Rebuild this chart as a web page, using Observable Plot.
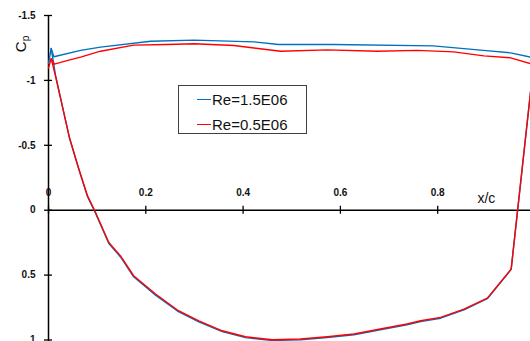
<!DOCTYPE html>
<html>
<head>
<meta charset="utf-8">
<script src="https://cdn.jsdelivr.net/npm/d3@7"></script>
<script src="https://cdn.jsdelivr.net/npm/@observablehq/plot@0.6"></script>
<style>
  html, body { margin: 0; padding: 0; background: #fff; overflow: hidden; }
  #wrap { position: relative; width: 530px; height: 341px; }
  #legend { position: absolute; left: 178px; top: 85px; width: 127px; height: 47px;
    border: 1px solid #404040; background: #fff;
    font-family: "Liberation Sans", Arial, sans-serif; font-size: 15px; color: #111; }
  .entry { position: absolute; left: 18px; height: 18px; display: flex; align-items: center; }
  .sw { width: 14px; height: 0; border-top: 1.5px solid; margin-right: 1px; }
</style>
</head>
<body>
<div id="wrap"></div>
<script>
// ---- data ----
const seriesNames = ["Re=1.5E06", "Re=0.5E06"];
const seriesColors = ["#0070C0", "#FF0000"];

const xTicks = [0, 0.2, 0.4, 0.6, 0.8];
const yTicks = [-1.5, -1, -0.5, 0, 0.5, 1];

// Re = 1.5E06, upper surface
const upperX15  = [0, 0.0055, 0.011, 0.066, 0.107, 0.210, 0.299, 0.422, 0.473, 0.586, 0.791, 0.894, 0.950, 1.0];
const upperCp15 = [-1.13, -1.246, -1.182, -1.231, -1.256, -1.302, -1.310, -1.297, -1.277, -1.277, -1.266, -1.231, -1.212, -1.172];
// Re = 0.5E06, upper surface
const upperX05  = [0, 0.0055, 0.012, 0.038, 0.066, 0.107, 0.175, 0.244, 0.299, 0.381, 0.477, 0.573, 0.676, 0.758, 0.833, 0.895, 0.950, 1.0];
const upperCp05 = [-1.095, -1.168, -1.125, -1.152, -1.179, -1.225, -1.272, -1.277, -1.282, -1.269, -1.225, -1.235, -1.225, -1.231, -1.220, -1.189, -1.174, -1.118];
// lower surface (shared stations)
const lowerX = [0.0055, 0.0144, 0.0247, 0.0432, 0.0617, 0.0802, 0.0946, 0.124, 0.148, 0.175, 0.220, 0.265, 0.309, 0.357, 0.405, 0.460, 0.518, 0.573, 0.628, 0.682, 0.737, 0.765, 0.806, 0.854, 0.902, 0.951, 1.0];
const lowerCp15 = [-1.246, -1.040, -0.866, -0.556, -0.323, -0.105, 0.005, 0.256, 0.360, 0.513, 0.654, 0.777, 0.860, 0.936, 0.982, 1.004, 0.998, 0.981, 0.960, 0.921, 0.883, 0.858, 0.832, 0.768, 0.682, 0.456, -1.225];
const lowerCp05 = [-1.168, -1.033, -0.864, -0.556, -0.325, -0.110, 0.000, 0.249, 0.352, 0.505, 0.646, 0.769, 0.852, 0.929, 0.975, 0.998, 0.992, 0.975, 0.954, 0.915, 0.877, 0.852, 0.826, 0.762, 0.677, 0.454, -1.225];

const xLabel = "x/c";
const xLabelAt = 0.9;

// ---- build table ----
function rows(series, surface, xs, cps) {
  return xs.map((x, i) => ({series, key: series + "|" + surface, x, cp: cps[i]}));
}
const data = [
  ...rows(seriesNames[0], "upper", upperX15, upperCp15),
  ...rows(seriesNames[0], "lower", lowerX, lowerCp15),
  ...rows(seriesNames[1], "upper", upperX05, upperCp05),
  ...rows(seriesNames[1], "lower", lowerX, lowerCp05)
];

const fmt = d => String(d);
const tickFont = "Liberation Sans, Arial, sans-serif";

const chart = Plot.plot({
  width: 530,
  height: 341,
  marginLeft: 0, marginRight: 0, marginTop: 0, marginBottom: 0,
  x: {domain: [0, 1], range: [48, 534.5], axis: null},
  y: {domain: [-1.5, 1], range: [15, 339.5], axis: null},
  color: {domain: seriesNames, range: seriesColors},
  style: {fontFamily: tickFont, background: "#fff"},
  marks: [
    // axes lines
    Plot.ruleY([0], {x1: 0, x2: 1, stroke: "#000", strokeWidth: 1.5}),
    Plot.ruleX([0], {y1: -1.5, y2: 1, insetBottom: -4, stroke: "#000", strokeWidth: 1.5}),
    // crossing ticks
    Plot.ruleY(yTicks, {x1: 0, x2: 0, insetLeft: -4, insetRight: -4, stroke: "#000", strokeWidth: 1.3}),
    Plot.ruleX(xTicks, {y1: 0, y2: 0, insetTop: -4, insetBottom: -4, stroke: "#000", strokeWidth: 1.3}),
    // tick labels
    Plot.text(yTicks, {x: 0, y: d => d, text: fmt, dx: -13, textAnchor: "end", fontWeight: "bold", fontSize: 10, fill: "#111"}),
    Plot.text(xTicks, {x: d => d, y: 0, text: fmt, dy: -17, fontWeight: "bold", fontSize: 10, fill: "#111"}),
    Plot.text([xLabel], {x: xLabelAt, y: 0, text: d => d, dy: -12, fontSize: 14, fill: "#111"}),
    // data
    Plot.line(data, {x: "x", y: "cp", z: "key", stroke: "series", strokeWidth: 1.4})
  ]
});

// y-axis title with subscript
const svg = d3.select(chart);
const t = svg.append("text")
  .attr("transform", "translate(26,44) rotate(-90)")
  .attr("text-anchor", "middle")
  .attr("font-family", tickFont)
  .attr("font-size", 15)
  .attr("fill", "#111");
t.append("tspan").text("C");
t.append("tspan").attr("font-size", 10).attr("dy", 3).text("p");

const wrap = document.getElementById("wrap");
wrap.appendChild(chart);

// legend
const legend = document.createElement("div");
legend.id = "legend";
seriesNames.forEach((name, i) => {
  const e = document.createElement("div");
  e.className = "entry";
  e.style.top = (4 + i * 25) + "px";
  const sw = document.createElement("span");
  sw.className = "sw";
  sw.style.borderTopColor = seriesColors[i];
  const tx = document.createElement("span");
  tx.textContent = name;
  e.appendChild(sw); e.appendChild(tx);
  legend.appendChild(e);
});
wrap.appendChild(legend);
</script>
</body>
</html>
